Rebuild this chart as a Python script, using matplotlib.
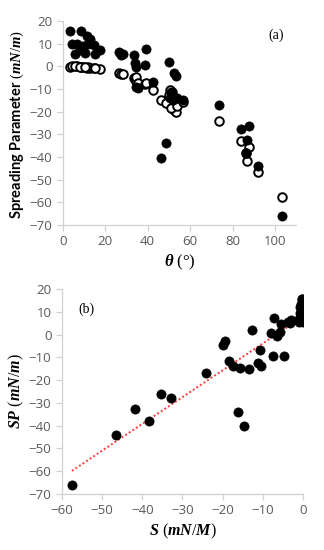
import numpy as np
import matplotlib
matplotlib.use("Agg")
import matplotlib.pyplot as plt

plt.rcParams['mathtext.fontset'] = 'custom'
plt.rcParams['mathtext.it'] = 'Liberation Serif:bold:italic'
plt.rcParams['mathtext.rm'] = 'Liberation Serif'
plt.rcParams['mathtext.bf'] = 'Liberation Serif:bold'

# contact angle theta (deg), spreading parameter SP (mN/m), spreading coefficient S (mN/m)
theta = [3.5, 8.5, 11.5, 13.0, 4.5, 6.5, 9.5, 12.0, 14.5, 17.5, 5.5, 8.0, 15.0, 10.5,
         26.5, 27.5, 28.5,
         33.5, 34.0, 34.5, 34.5, 35.5, 38.5, 39.0, 42.5,
         46.5, 48.5, 50.0, 52.5, 53.5, 51.0, 54.0, 56.5, 52.0, 51.5, 50.5,
         73.7, 83.8, 87.9, 86.9, 86.2, 92.1, 103.2]
SP = [15.5, 15.5, 13.5, 12.0, 10.0, 10.0, 9.0, 10.0, 9.5, 7.0, 5.5, 7.0, 5.5, 6.0,
      6.5, 5.0, 5.5,
      4.8, 1.3, -0.5, -9.3, -9.5, 0.5, 7.4, -7.0,
      -40.3, -34.0, 1.8, -3.0, -4.5, -11.5, -14.0, -14.8, -15.0, -12.6, -14.0,
      -17.0, -27.8, -26.2, -32.5, -38.1, -44.0, -65.9]
S = [-0.3, -0.2, -0.6, -0.8, 0.0, -0.1, -0.4, -0.5, -0.8, -1.0, -0.1, -0.2, -0.9, -0.4,
     -3.0, -3.3, -3.6,
     -5.4, -5.8, -6.4, -4.6, -7.5, -7.9, -7.3, -10.6,
     -14.7, -16.2, -12.8, -19.5, -20.0, -18.5, -17.4, -15.7, -13.4, -11.3, -10.5,
     -24.1, -32.9, -35.4, -41.8, -38.3, -46.5, -57.5]

theta = np.array(theta); SP = np.array(SP); S = np.array(S)

fig = plt.figure(figsize=(3.24, 5.5), dpi=100)
ax1 = fig.add_axes([0.194, 0.591, 0.72, 0.371])
ax2 = fig.add_axes([0.191, 0.102, 0.744, 0.3725])

gray_spine = '#d0d0d0'
tick_col = '#595959'

def style(ax):
    for s in ['top', 'right']:
        ax.spines[s].set_visible(False)
    for s in ['left', 'bottom']:
        ax.spines[s].set_color(gray_spine)
        ax.spines[s].set_linewidth(0.9)
    ax.tick_params(colors=gray_spine, labelcolor=tick_col, labelsize=9.5, length=4, width=0.9)
    for lab in ax.get_xticklabels() + ax.get_yticklabels():
        lab.set_family('Open Sans')

# Panel (a)
ax1.scatter(theta, S, s=38, facecolor='white', edgecolor='black', linewidth=1.4, zorder=3)
ax1.scatter(theta, SP, s=44, facecolor='black', edgecolor='black', linewidth=0.5, zorder=4)
ax1.set_xlim(0, 110)
ax1.set_ylim(-70, 20)
ax1.set_xticks([0, 20, 40, 60, 80, 100])
ax1.set_yticks(range(-70, 21, 10))
style(ax1)
ax1.set_ylabel(r"Spreading Parameter $(mN/m)$", fontsize=10.5, fontweight='bold', family='Lato')
ax1.yaxis.set_label_coords(-0.16, 0.49)
ax1.set_xlabel(r"$\theta$ (°)", fontsize=12, family='Liberation Serif', labelpad=3)
ax1.text(0.915, 0.93, "(a)", transform=ax1.transAxes, fontsize=10, family='Liberation Serif', ha='center', va='center')

# Panel (b)
ax2.scatter(S, SP, s=44, facecolor='black', edgecolor='black', linewidth=0.5, zorder=4)
k, b0 = np.polyfit(S, SP, 1)
xs = np.array([S.min(), S.max()])
ax2.plot(xs, k * xs + b0, linestyle=(0, (1, 1.2)), color='#ff3b3b', linewidth=1.4, zorder=3)
ax2.set_xlim(-60, 0)
ax2.set_ylim(-70, 20)
ax2.set_xticks(range(-60, 1, 10))
ax2.set_yticks(range(-70, 21, 10))
style(ax2)
ax2.set_ylabel(r"$SP\ (mN/m)$", fontsize=11.5, labelpad=2)
ax2.set_xlabel(r"$S\ (mN/M)$", fontsize=11.5, labelpad=3)
ax2.text(0.1, 0.9, "(b)", transform=ax2.transAxes, fontsize=10, family='Liberation Serif', ha='center', va='center')

fig.savefig("out.png", dpi=100)
